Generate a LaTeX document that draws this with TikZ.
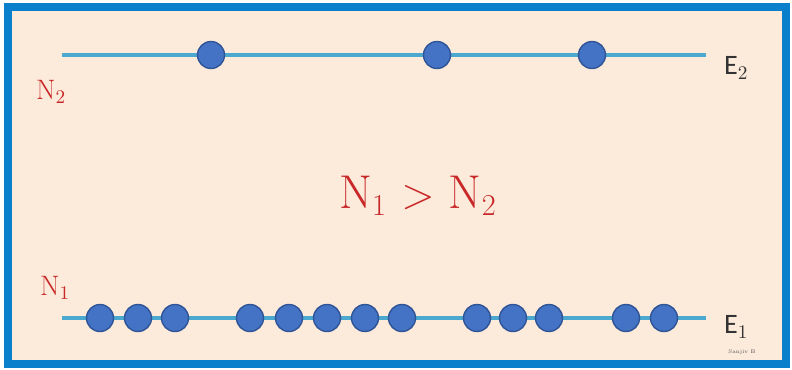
\documentclass[tikz,border=0pt]{standalone}
\usepackage{fontspec}
\newfontfamily\calibri{Carlito}
\definecolor{peach}{RGB}{252,234,219}
\definecolor{frameblue}{RGB}{10,128,205}
\definecolor{levelblue}{RGB}{75,168,206}
\definecolor{dotblue}{RGB}{68,114,196}
\definecolor{dotedge}{RGB}{47,85,151}
\definecolor{labred}{RGB}{200,40,40}
\tikzset{
  particle/.style={circle,fill=dotblue,draw=dotedge,line width=0.8pt,minimum size=0.54cm,inner sep=0pt},
  level/.style={levelblue,line width=1.8pt},
  elabel/.style={font=\calibri\fontsize{16}{16}\selectfont,text=black!80},
  nlabel/.style={font=\fontsize{16}{16}\selectfont,text=labred}
}

\begin{document}
\begin{tikzpicture}[x=0.02cm,y=-0.02cm]
  \useasboundingbox (0,0) rectangle (792,369);
  \fill[white] (0,0) rectangle (792,369);
  \draw[frameblue,line width=5pt,fill=peach] (8,7) rectangle (786,364);
  % energy levels
  \coordinate (T0) at (62,55);
  \coordinate (T1) at (706,55);
  \coordinate (B0) at (62,318);
  \coordinate (B1) at (706,318);
  \draw[level] (T0) -- (T1);
  \draw[level] (B0) -- (B1);
  % upper level
  \foreach \x [count=\i] in {211,437,592}
    \node[particle] (u\i) at (\x,55) {};
  % lower level
  \foreach \x [count=\i] in {100,138,175,250,289,327,365,402,477,513,549,626,664}
    \node[particle] (l\i) at (\x,318) {};
  \node[elabel,anchor=west] (E2) at (718,68) {E$_2$};
  \node[elabel,anchor=west] (E1) at (718,327) {E$_1$};
  \node[nlabel,anchor=west] (N2) at (30,92) {N$_2$};
  \node[nlabel,anchor=west] (N1) at (34,288) {N$_1$};
  \node[text=labred,font=\fontsize{27}{27}\selectfont] (rel) at (418,196) {N$_1$ $>$ N$_2$};
  \node[font=\fontsize{3}{3}\selectfont,text=black!70] (sig) at (742,352) {Sanjiv B};
\end{tikzpicture}
\end{document}
